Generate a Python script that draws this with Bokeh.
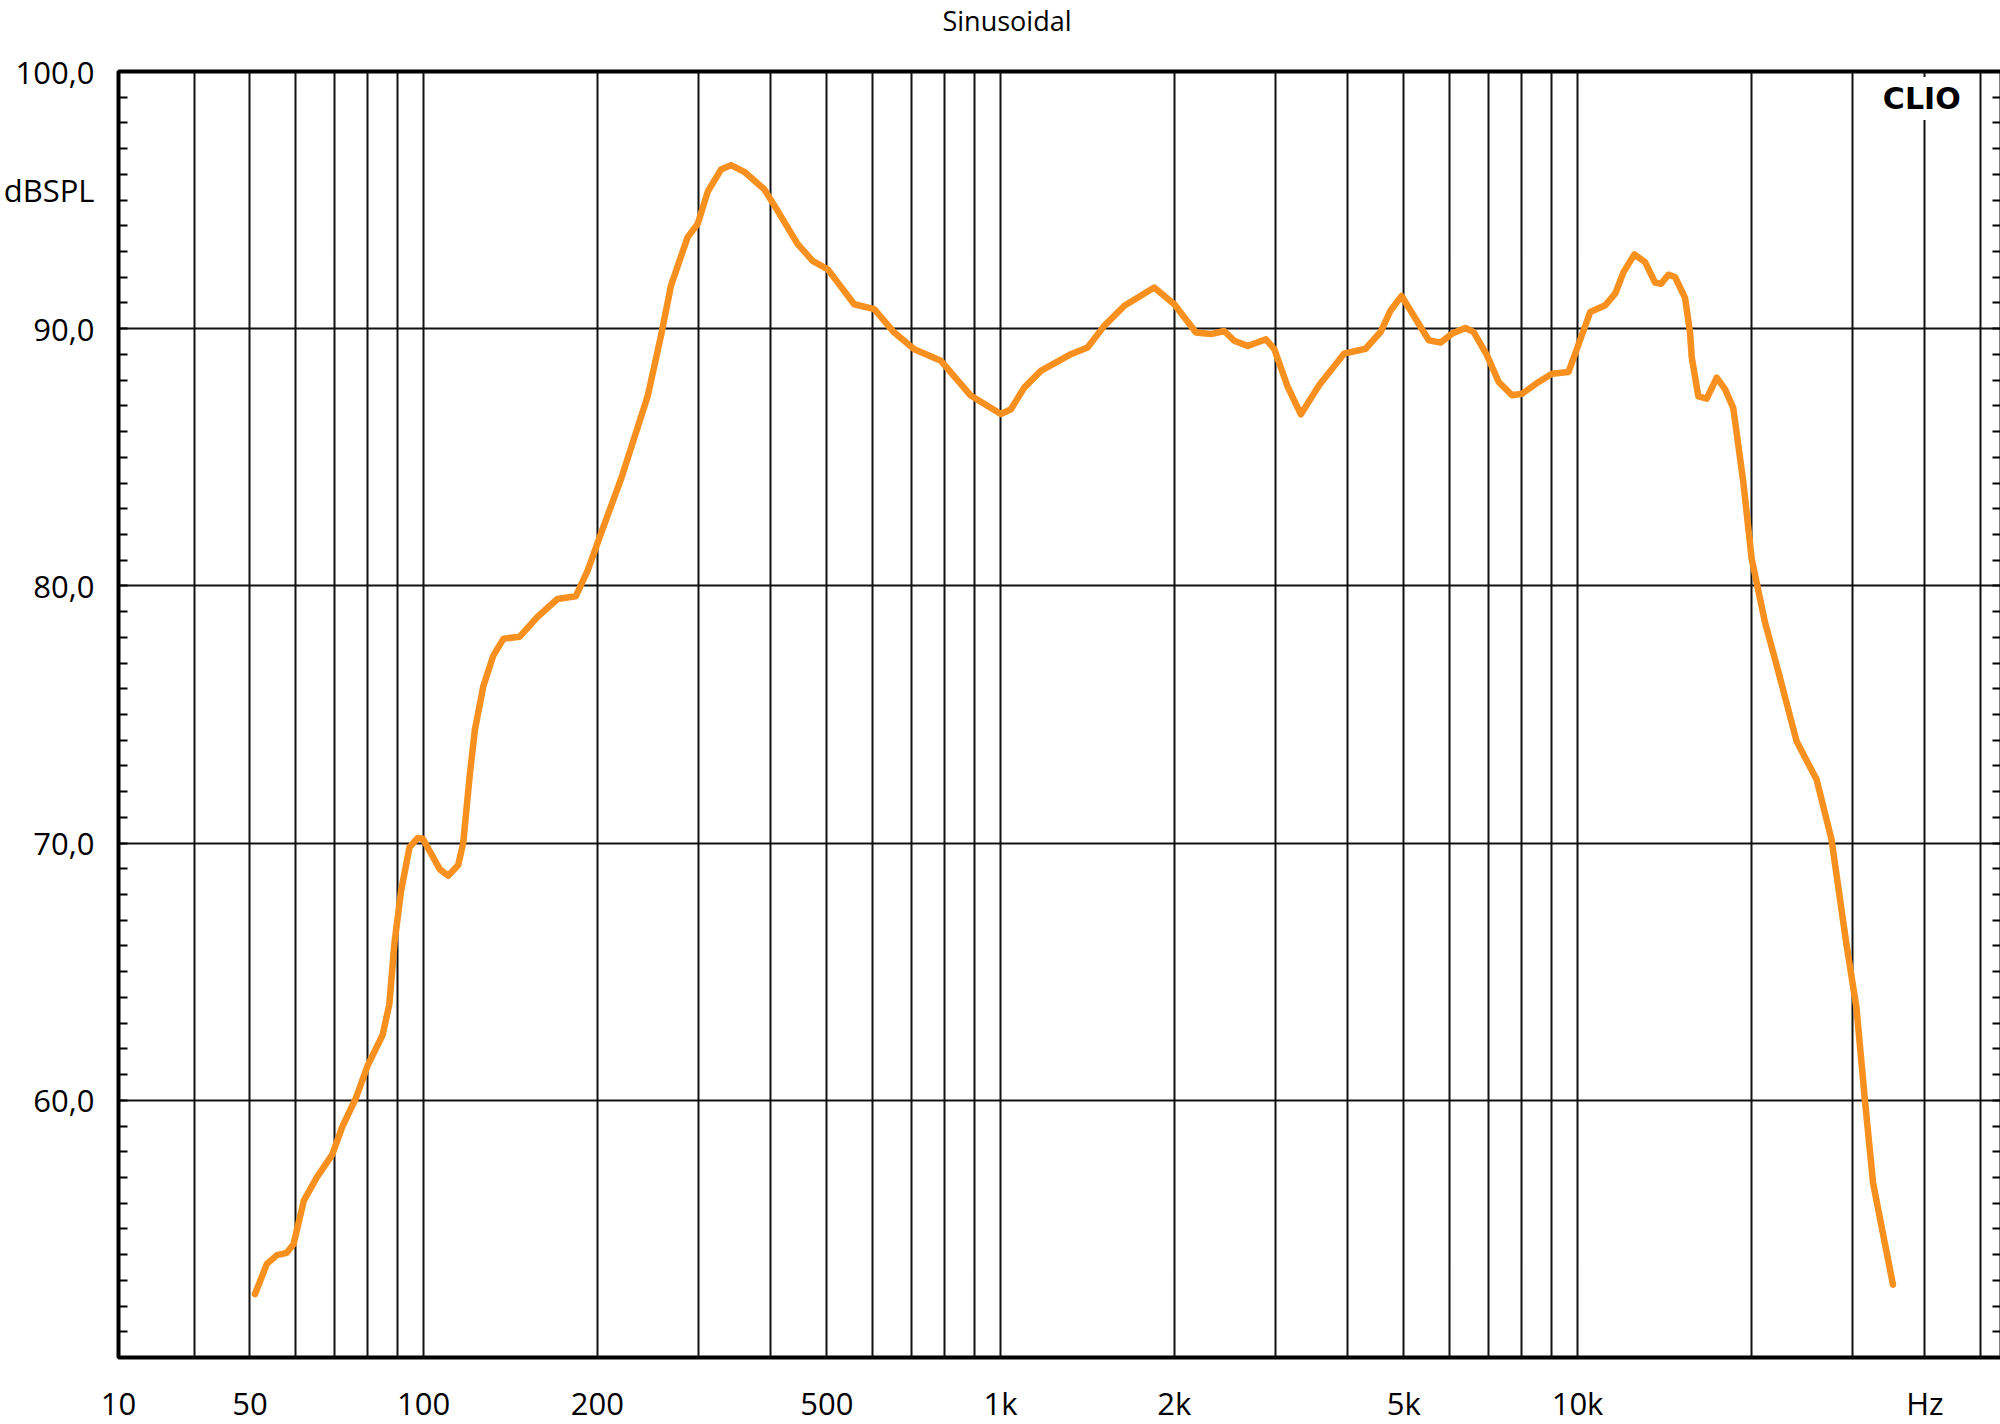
from bokeh.plotting import figure
from bokeh.models import FixedTicker, LinearAxis, Label, Range1d, Title
from bokeh.embed import file_html
from bokeh.resources import INLINE

# ---- data ----
freq_hz = [51.0, 53.5, 55.7, 57.9, 59.5, 62.0, 65.4, 69.4, 72.3, 76.3, 80.0, 84.9, 87.2, 89.0,
           91.4, 94.5, 97.7, 99.7, 106.7, 110.3, 114.8, 117.1, 120.3, 122.7, 126.9, 132.1, 137.6,
           146.6, 157.6, 170.6, 183.6, 192.4, 201.6, 219.8, 244.5, 258.0, 268.5, 286.8, 298.5,
           310.9, 327.7, 341.0, 359.6, 389.4, 410.8, 444.6, 472.2, 501.5, 521.9, 557.6, 604,
           654.2, 708.6, 788, 888.6, 1001, 1042, 1099, 1174, 1324, 1415, 1512, 1639, 1846, 2000,
           2181, 2315, 2442, 2541, 2680, 2883, 2982, 3144, 3315, 3565, 3937, 4291, 4556, 4742,
           4955, 5239, 5523, 5787, 6064, 6391, 6607, 6970, 7300, 7700, 8013, 8561, 9030, 9647,
           9976, 10520, 11167, 11620, 12014, 12547, 13094, 13628, 13958, 14369, 14757, 15357,
           15667, 15770, 16196, 16744, 17427, 18010, 18616, 19371, 20035, 21119, 22274, 23969,
           25960, 27549, 29249, 30438, 31465, 32527, 35212]
spl_db = [52.46, 53.64, 53.98, 54.07, 54.4, 56.1, 57.03, 57.88, 58.98, 60.08, 61.36, 62.54, 63.73, 66.1,
          68.14, 69.83, 70.2, 70.17, 68.98, 68.73, 69.15, 70.0, 72.71, 74.4, 76.1, 77.3, 77.95,
          78.02, 78.8, 79.49, 79.6, 80.59, 81.86, 84.15, 87.37, 89.75, 91.69, 93.56, 94.07,
          95.34, 96.19, 96.36, 96.1, 95.42, 94.58, 93.3, 92.64, 92.31, 91.8, 90.95, 90.76,
          89.85, 89.2, 88.75, 87.39, 86.68, 86.87, 87.71, 88.36, 89.01, 89.27, 90.11, 90.89, 91.6, 90.95,
          89.85, 89.79, 89.91, 89.53, 89.33, 89.59, 89.2, 87.75, 86.67, 87.8, 89.03, 89.22, 89.87, 90.71,
          91.27, 90.39, 89.55, 89.46, 89.81, 90.03, 89.87, 88.96, 87.93, 87.41, 87.47, 87.93, 88.25, 88.32,
          89.22, 90.65, 90.91, 91.36, 92.2, 92.89, 92.59, 91.79, 91.75, 92.1, 92.01, 91.2,
          89.85, 88.9, 87.37, 87.28, 88.1, 87.65, 86.92, 84.06, 81.06, 78.6, 76.69, 73.96,
          72.47, 70.15, 66.06, 63.6, 60.06, 56.78, 52.83]

x_tick_values = [29.6, 50, 100, 200, 500, 1000, 2000, 5000, 10000, 40000]
x_tick_labels = ["10", "50", "100", "200", "500", "1k", "2k", "5k", "10k", "Hz"]
x_grid_values = [40, 50, 60, 70, 80, 90, 100, 200, 300, 400, 500, 600, 700, 800, 900,
                 1000, 2000, 3000, 4000, 5000, 6000, 7000, 8000, 9000, 10000, 20000, 30000,
                 40000, 50000]
y_tick_values = [60, 70, 80, 90, 95.4, 100]
y_tick_labels = ["60,0", "70,0", "80,0", "90,0", "dBSPL", "100,0"]
y_grid_values = [60, 70, 80, 90]
y_minor_values = list(range(51, 100))

title_text = "Sinusoidal"
logo_text = "CLIO"

FONT = "Open Sans"

p = figure(x_axis_type="log", x_range=Range1d(29.59, 54300), y_range=Range1d(50, 100),
           frame_width=1883, frame_height=1286,
           min_border_left=106, min_border_top=71, min_border_right=3, min_border_bottom=40,
           output_backend="svg", toolbar_location=None, background_fill_color="white",
           border_fill_color="white")

# spacer between frame and title (nearest the frame), then the title itself
p.add_layout(Title(text=" ", text_font_size="1px", standoff=36), "above")
p.add_layout(Title(text=title_text, align="left", offset=824, vertical_align="top",
                   standoff=-16, text_font=FONT, text_font_size="27px",
                   text_font_style="normal", text_color="black"), "above")

p.outline_line_color = "black"
p.outline_line_width = 4

# x axis
xa = p.xaxis[0]
xa.ticker = FixedTicker(ticks=x_tick_values)
xa.major_label_overrides = {v: t for v, t in zip(x_tick_values, x_tick_labels)}
xa.major_tick_line_color = None
xa.minor_tick_line_color = None
xa.axis_line_color = None
xa.major_label_text_font = FONT
xa.major_label_text_font_size = "31px"
xa.major_label_text_color = "black"
xa.major_label_standoff = 18

# y axis (left)
ya = p.yaxis[0]
ya.ticker = FixedTicker(ticks=y_tick_values, minor_ticks=y_minor_values)
ya.major_label_overrides = {v: t for v, t in zip(y_tick_values, y_tick_labels)}
ya.major_tick_line_color = None
ya.minor_tick_line_color = "black"
ya.minor_tick_line_width = 2
ya.minor_tick_in = 9
ya.minor_tick_out = 0
ya.axis_line_color = None
ya.major_label_text_font = FONT
ya.major_label_text_font_size = "31px"
ya.major_label_text_color = "black"
ya.major_label_standoff = 18

# right axis with inward minor ticks
ra = LinearAxis(ticker=FixedTicker(ticks=[], minor_ticks=y_minor_values),
                axis_line_color=None, major_tick_line_color=None,
                minor_tick_line_color="black", minor_tick_line_width=2,
                minor_tick_in=9, minor_tick_out=0, major_label_standoff=0,
                major_label_text_font_size="0px")
p.add_layout(ra, "right")

# grids
p.xgrid.ticker = FixedTicker(ticks=x_grid_values)
p.ygrid.ticker = FixedTicker(ticks=y_grid_values)
for g in (p.xgrid[0], p.ygrid[0]):
    g.grid_line_color = "#111111"
    g.grid_line_width = 2

# curve
p.line(freq_hz, spl_db, line_color="#F7901E", line_width=6.5, line_join="round", line_cap="round")

# logo
p.add_layout(Label(x=39500, y=98.95, text=logo_text, text_align="center", text_baseline="middle",
                   text_font="DejaVu Sans", text_font_style="bold", text_font_size="30px",
                   text_color="black", background_fill_color="white",
                   padding=4))

open("out.html", "w").write(file_html(p, INLINE))
